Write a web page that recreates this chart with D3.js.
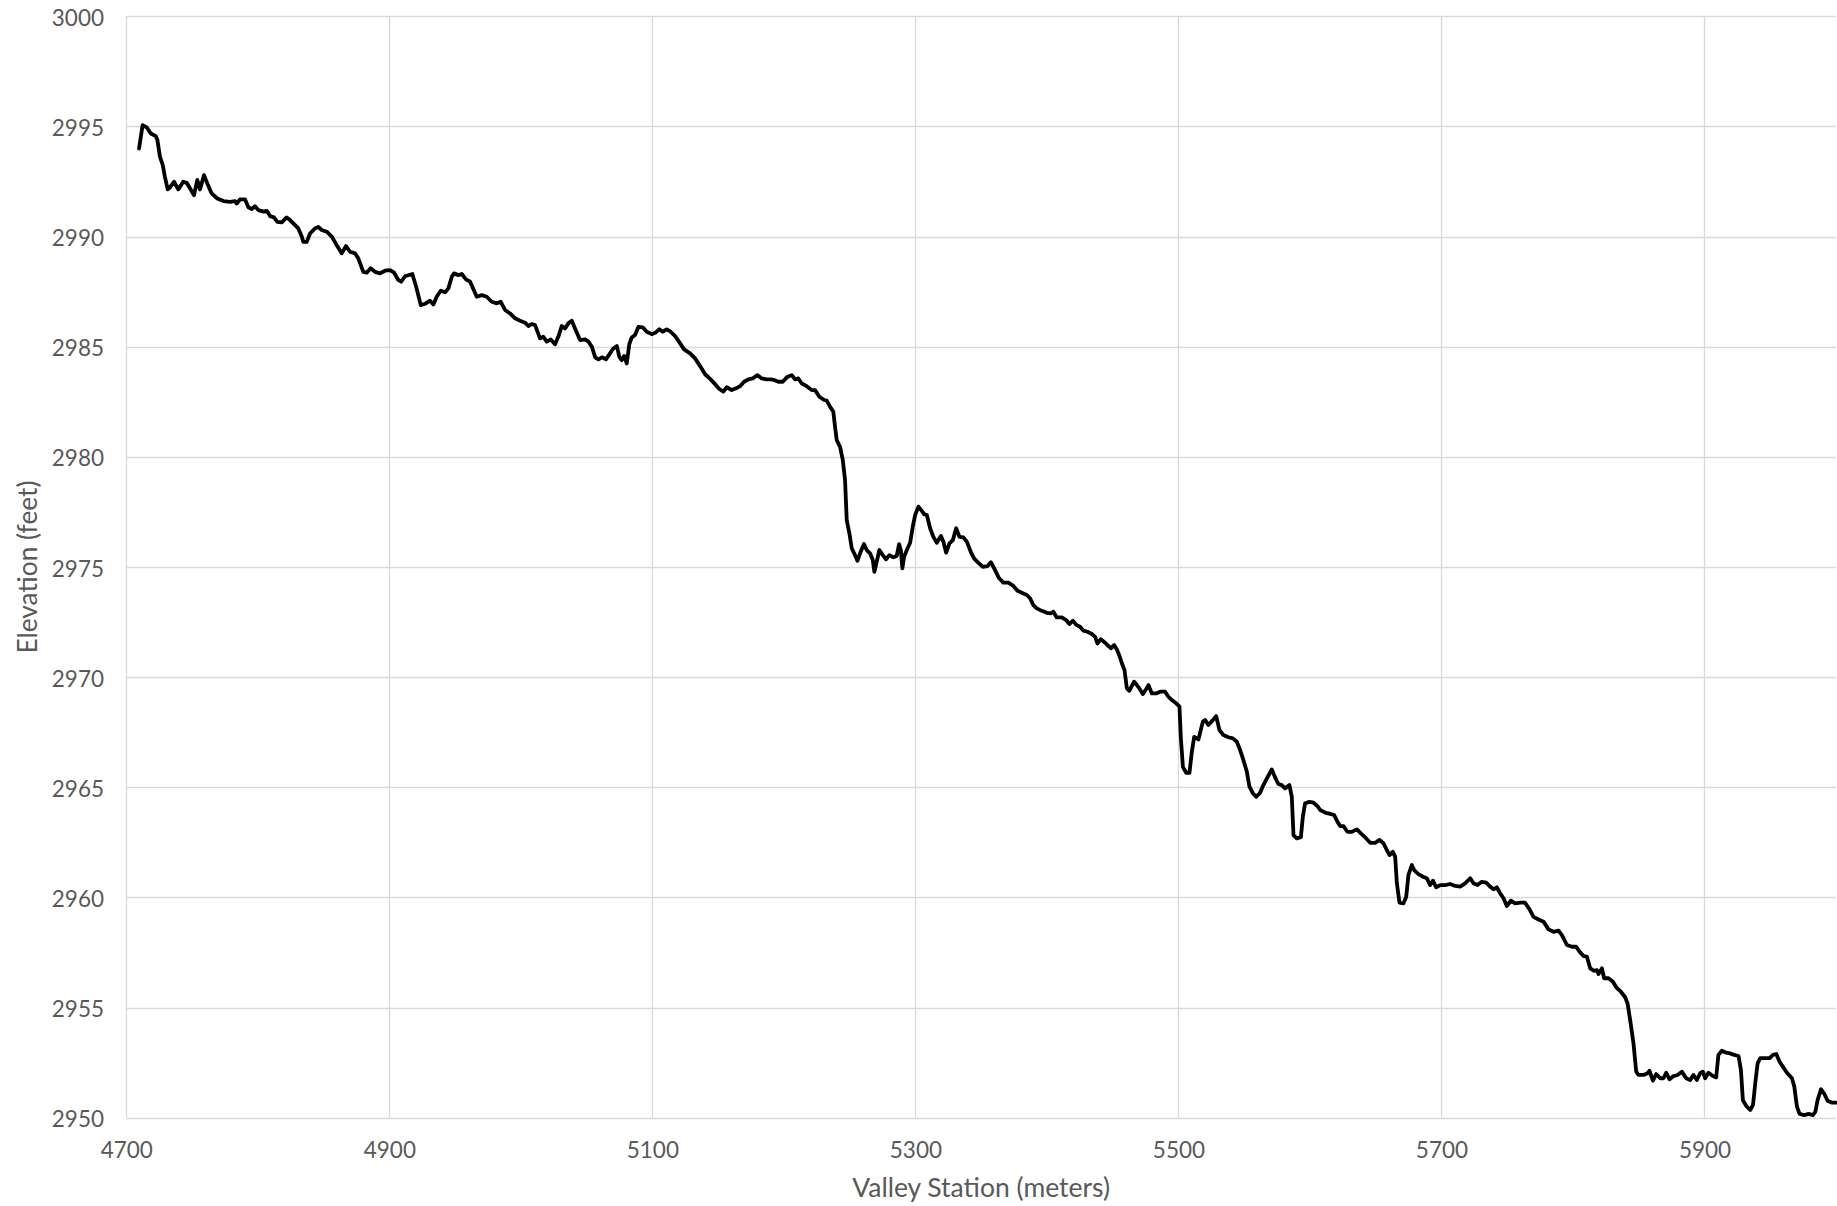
<!DOCTYPE html>
<html>
<head>
<meta charset="utf-8">
<script src="https://cdn.jsdelivr.net/npm/d3@7"></script>
<style>
  html, body { margin: 0; padding: 0; background: #fff; }
  svg { display: block; }
  .tick text { font-family: Lato, "Open Sans", sans-serif; fill: #595959; }
</style>
</head>
<body>
<svg id="chart" width="1837" height="1206"></svg>
<script>
// ---- Data ----
const station = [
4709.7,4712.4,4715.5,4718.6,4722.4,4723.6,4725.6,4727.7,4729.4,4731.5,4733.2,4736.3,4739.5,4743.3,4745.9,4748.4,4751.5,4754.0,4756.0,4759.1,
4761.6,4764.9,4769.2,4773.8,4778.9,4782.7,4784.0,4786.5,4790.3,4792.8,4795.4,4797.9,4800.4,4804.2,4806.8,4809.3,4812.3,4814.8,4818.2,4822.0,
4824.5,4827.0,4830.8,4833.4,4834.6,4837.2,4839.7,4843.5,4846.0,4848.6,4852.4,4856.2,4860.0,4863.8,4867.1,4870.1,4873.9,4876.4,4880.2,4882.8,
4885.8,4889.1,4892.9,4896.7,4900.5,4903.6,4906.8,4909.0,4911.9,4917.5,4920.5,4923.9,4927.1,4930.9,4933.5,4936.0,4939.1,4942.4,4944.9,4947.5,
4949.2,4952.5,4955.1,4958.3,4961.4,4966.5,4970.3,4974.1,4977.9,4981.7,4984.7,4988.0,4991.8,4995.6,4999.4,5003.2,5005.7,5008.3,5010.8,5014.6,
5017.1,5019.7,5022.7,5026.0,5028.5,5031.1,5033.6,5036.1,5038.7,5041.2,5045.0,5048.9,5051.4,5054.0,5056.5,5059.0,5061.6,5064.8,5067.8,5070.3,
5073.0,5074.9,5076.7,5078.5,5080.5,5082.5,5084.3,5086.8,5089.4,5092.7,5095.7,5099.5,5102.1,5105.3,5107.9,5110.9,5113.9,5117.3,5121.1,5124.1,
5128.7,5132.5,5136.3,5140.1,5143.9,5147.7,5150.9,5154.0,5156.6,5160.4,5163.6,5166.7,5169.7,5173.0,5176.3,5179.8,5183.2,5187.0,5190.0,5192.5,
5195.8,5199.1,5202.2,5206.0,5208.5,5211.0,5213.6,5217.4,5221.2,5223.7,5227.0,5230.6,5232.6,5235.2,5237.6,5238.9,5240.2,5242.7,5244.8,5246.5,
5247.8,5249.8,5251.6,5254.1,5255.9,5257.9,5260.9,5263.0,5265.5,5267.6,5268.8,5270.6,5272.6,5275.2,5277.7,5280.2,5283.3,5285.8,5287.6,5288.9,
5290.1,5291.4,5293.5,5296.0,5298.0,5299.8,5302.3,5304.9,5306.6,5308.7,5311.2,5313.7,5316.3,5319.4,5321.3,5323.4,5325.9,5328.5,5331.0,5333.5,
5336.5,5339.1,5342.1,5344.6,5347.9,5351.3,5354.8,5357.4,5360.2,5363.5,5366.9,5370.7,5374.5,5377.6,5380.9,5384.7,5387.2,5389.7,5392.3,5396.1,
5399.9,5403.0,5404.9,5407.5,5411.3,5414.6,5417.1,5419.7,5422.7,5425.2,5427.8,5430.8,5434.2,5436.7,5438.4,5441.0,5444.3,5446.8,5448.8,5451.1,
5453.2,5455.2,5457.0,5459.0,5460.8,5462.7,5464.6,5466.3,5468.4,5470.3,5472.9,5475.4,5477.2,5479.8,5483.0,5486.1,5489.9,5492.4,5495.0,5498.3,
5500.8,5501.8,5503.4,5505.9,5508.4,5510.2,5512.0,5515.2,5518.6,5520.3,5522.8,5526.2,5528.7,5531.2,5534.2,5538.0,5541.4,5544.4,5546.9,5549.4,
5552.0,5554.0,5556.6,5559.1,5562.1,5564.6,5567.7,5571.0,5573.5,5576.0,5578.6,5581.1,5584.4,5586.2,5587.5,5590.0,5593.1,5594.6,5596.3,5599.6,
5602.7,5605.7,5607.8,5611.6,5615.4,5618.4,5620.9,5623.0,5625.5,5628.5,5631.9,5635.7,5638.7,5642.0,5645.8,5649.6,5652.9,5655.9,5658.5,5660.5,
5663.0,5664.8,5666.1,5668.1,5671.1,5673.2,5674.9,5677.5,5679.2,5682.5,5685.9,5688.9,5691.4,5693.5,5696.0,5699.0,5702.8,5706.6,5710.5,5714.2,
5718.0,5721.9,5724.3,5727.4,5730.7,5734.0,5737.0,5739.6,5742.1,5744.6,5747.2,5749.7,5752.8,5756.0,5759.9,5763.6,5767.0,5770.0,5773.8,5777.6,
5781.4,5785.2,5789.0,5791.6,5795.4,5799.2,5802.4,5805.0,5808.0,5810.6,5813.1,5816.1,5818.2,5819.4,5822.0,5823.7,5827.0,5830.4,5832.9,5836.4,
5839.7,5841.5,5843.5,5846.0,5848.1,5849.8,5853.6,5856.7,5858.2,5860.8,5863.3,5866.4,5868.8,5870.9,5873.4,5876.5,5879.5,5882.8,5886.1,5889.1,
5891.6,5894.2,5896.7,5898.8,5900.5,5903.0,5906.4,5908.9,5910.6,5913.2,5916.5,5919.5,5922.6,5925.9,5927.7,5929.2,5931.8,5934.8,5936.9,5938.6,
5940.4,5942.4,5946.2,5949.5,5952.1,5954.6,5957.1,5959.7,5962.7,5966.5,5968.3,5970.3,5972.3,5975.9,5979.1,5982.5,5984.3,5986.0,5988.6,5991.1,
5993.6,5997.0,6000.0
];
const elevation = [
2994.00,2995.06,2994.96,2994.68,2994.56,2994.40,2993.62,2993.25,2992.70,2992.14,2992.23,2992.49,2992.14,2992.49,2992.44,2992.19,2991.88,2992.57,2992.14,2992.79,
2992.41,2991.96,2991.73,2991.61,2991.58,2991.61,2991.50,2991.69,2991.69,2991.33,2991.25,2991.38,2991.20,2991.13,2991.17,2990.93,2990.87,2990.67,2990.65,2990.87,
2990.75,2990.60,2990.37,2990.00,2989.76,2989.76,2990.14,2990.37,2990.44,2990.30,2990.22,2990.00,2989.61,2989.24,2989.57,2989.31,2989.24,2989.01,2988.40,2988.36,
2988.56,2988.40,2988.33,2988.45,2988.48,2988.36,2988.03,2987.95,2988.20,2988.30,2987.70,2986.89,2986.95,2987.09,2986.92,2987.27,2987.54,2987.47,2987.65,2988.18,
2988.33,2988.25,2988.30,2988.06,2987.95,2987.27,2987.34,2987.27,2987.04,2986.97,2987.04,2986.67,2986.51,2986.29,2986.18,2986.09,2985.94,2986.03,2985.98,2985.38,
2985.45,2985.23,2985.33,2985.11,2985.45,2985.94,2985.83,2986.06,2986.18,2985.83,2985.30,2985.33,2985.23,2985.00,2984.52,2984.43,2984.52,2984.43,2984.70,2984.92,
2985.03,2984.54,2984.39,2984.58,2984.24,2985.12,2985.42,2985.53,2985.90,2985.88,2985.68,2985.57,2985.63,2985.79,2985.68,2985.79,2985.68,2985.48,2985.15,2984.88,
2984.70,2984.47,2984.12,2983.75,2983.54,2983.30,2983.08,2982.96,2983.16,2983.03,2983.11,2983.21,2983.41,2983.52,2983.56,2983.71,2983.56,2983.52,2983.52,2983.49,
2983.41,2983.41,2983.61,2983.71,2983.52,2983.56,2983.33,2983.21,2983.03,2983.03,2982.73,2982.58,2982.55,2982.27,2982.05,2981.37,2980.76,2980.46,2979.85,2978.95,
2977.13,2976.53,2975.85,2975.54,2975.28,2975.62,2976.04,2975.77,2975.62,2975.32,2974.78,2975.24,2975.77,2975.54,2975.35,2975.54,2975.44,2975.50,2976.04,2975.77,
2974.94,2975.47,2975.77,2976.10,2976.83,2977.36,2977.74,2977.55,2977.40,2977.36,2976.76,2976.37,2976.10,2976.41,2976.15,2975.65,2976.07,2976.22,2976.76,2976.37,
2976.34,2976.15,2975.69,2975.39,2975.19,2975.01,2975.04,2975.22,2974.90,2974.50,2974.29,2974.29,2974.14,2973.92,2973.83,2973.73,2973.58,2973.27,2973.12,2973.01,
2972.92,2972.90,2972.97,2972.71,2972.71,2972.59,2972.41,2972.56,2972.36,2972.29,2972.11,2972.06,2971.96,2971.83,2971.53,2971.72,2971.56,2971.41,2971.31,2971.46,
2971.26,2970.96,2970.63,2970.32,2969.49,2969.38,2969.60,2969.79,2969.64,2969.49,2969.23,2969.45,2969.64,2969.26,2969.26,2969.34,2969.34,2969.11,2968.96,2968.81,
2968.66,2967.29,2965.93,2965.66,2965.66,2966.61,2967.29,2967.17,2967.98,2968.05,2967.83,2968.05,2968.23,2967.60,2967.37,2967.27,2967.22,2967.07,2966.69,2966.24,
2965.71,2965.03,2964.73,2964.57,2964.75,2965.10,2965.45,2965.81,2965.45,2965.15,2965.10,2964.95,2965.10,2964.57,2962.83,2962.68,2962.73,2963.66,2964.27,2964.34,
2964.30,2964.15,2963.97,2963.85,2963.79,2963.74,2963.44,2963.24,2963.24,2962.98,2962.98,2963.09,2962.91,2962.73,2962.48,2962.48,2962.61,2962.46,2962.15,2961.92,
2962.07,2961.85,2960.64,2959.76,2959.73,2960.03,2961.02,2961.47,2961.24,2961.06,2960.94,2960.87,2960.56,2960.76,2960.46,2960.56,2960.56,2960.61,2960.52,2960.49,
2960.64,2960.87,2960.64,2960.56,2960.71,2960.67,2960.49,2960.37,2960.46,2960.19,2959.96,2959.61,2959.85,2959.73,2959.76,2959.76,2959.46,2959.12,2959.00,2958.90,
2958.55,2958.44,2958.49,2958.29,2957.84,2957.76,2957.76,2957.54,2957.34,2957.31,2956.78,2956.67,2956.70,2956.52,2956.78,2956.33,2956.33,2956.17,2955.92,2955.72,
2955.47,2955.19,2954.43,2953.38,2952.09,2951.94,2951.94,2952.02,2952.13,2951.68,2951.98,2951.79,2951.79,2952.04,2951.74,2951.89,2951.94,2952.09,2951.79,2951.71,
2951.94,2951.71,2952.02,2952.09,2951.79,2952.04,2951.89,2951.83,2952.85,2953.04,2952.95,2952.92,2952.85,2952.80,2952.17,2950.80,2950.53,2950.35,2950.58,2951.56,
2952.47,2952.70,2952.70,2952.70,2952.85,2952.89,2952.54,2952.31,2952.04,2951.79,2951.41,2950.50,2950.17,2950.12,2950.17,2950.12,2950.27,2950.80,2951.29,2951.08,
2950.77,2950.68,2950.68
];
const xTicks = [4700, 4900, 5100, 5300, 5500, 5700, 5900];
const yTicks = [2950, 2955, 2960, 2965, 2970, 2975, 2980, 2985, 2990, 2995, 3000];
const xTitle = "Valley Station (meters)";
const yTitle = "Elevation (feet)";

(function () {
  // ---- Layout ----
  const mL = 126.3, mR = 1836, mT = 16.3, mB = 1117.7;
  const svg = d3.select("#chart");

  const x = d3.scaleLinear().domain([4700, 6000]).range([mL, mR]);
  const y = d3.scaleLinear().domain([2950, 3000]).range([mB, mT]);

  const grid = "#d9d9d9";
  const textCol = "#595959";
  const fontFam = "Lato, 'Open Sans', sans-serif";

  // horizontal gridlines
  svg.append("g").selectAll("line").data(yTicks).join("line")
    .attr("x1", mL).attr("x2", mR)
    .attr("y1", d => Math.round(y(d)) + 0.5).attr("y2", d => Math.round(y(d)) + 0.5)
    .attr("stroke", grid).attr("stroke-width", 1.3);

  // vertical gridlines
  svg.append("g").selectAll("line").data(xTicks).join("line")
    .attr("x1", d => Math.round(x(d)) + 0.5).attr("x2", d => Math.round(x(d)) + 0.5)
    .attr("y1", mT).attr("y2", mB)
    .attr("stroke", grid).attr("stroke-width", 1.3);

  // axes (labels only)
  const xAxis = d3.axisBottom(x).tickValues(xTicks).tickSize(0).tickPadding(0).tickFormat(d3.format("d"));
  const gx = svg.append("g").attr("transform", `translate(0,${mB})`).call(xAxis);
  gx.select(".domain").remove();
  gx.selectAll(".tick text").attr("dy", null).attr("y", 40)
    .style("font-size", "22.5px").style("fill", textCol);

  const yAxis = d3.axisLeft(y).tickValues(yTicks).tickSize(0).tickPadding(0).tickFormat(d3.format("d"));
  const gy = svg.append("g").attr("transform", `translate(104,0)`).call(yAxis);
  gy.select(".domain").remove();
  gy.selectAll(".tick text").attr("x", 0).attr("dy", "0.40em")
    .style("font-size", "22.5px").style("fill", textCol);

  // axis titles
  svg.append("text")
    .attr("x", (mL + mR) / 2).attr("y", 1197)
    .attr("text-anchor", "middle")
    .style("font-family", fontFam).style("font-size", "26.5px").style("fill", textCol)
    .text(xTitle);

  svg.append("text")
    .attr("transform", `translate(37,${(mT + mB) / 2}) rotate(-90)`)
    .attr("text-anchor", "middle")
    .style("font-family", fontFam).style("font-size", "26.3px").style("fill", textCol)
    .text(yTitle);

  // the series line
  const n = Math.min(station.length, elevation.length);
  const pts = d3.range(n).map(i => [station[i], elevation[i]]);
  const line = d3.line().x(d => x(d[0])).y(d => y(d[1])).curve(d3.curveLinear);
  svg.append("path")
    .datum(pts)
    .attr("d", line)
    .attr("fill", "none")
    .attr("stroke", "#000")
    .attr("stroke-width", 3.8)
    .attr("stroke-linejoin", "round")
    .attr("stroke-linecap", "round");
})();
</script>
</body>
</html>
